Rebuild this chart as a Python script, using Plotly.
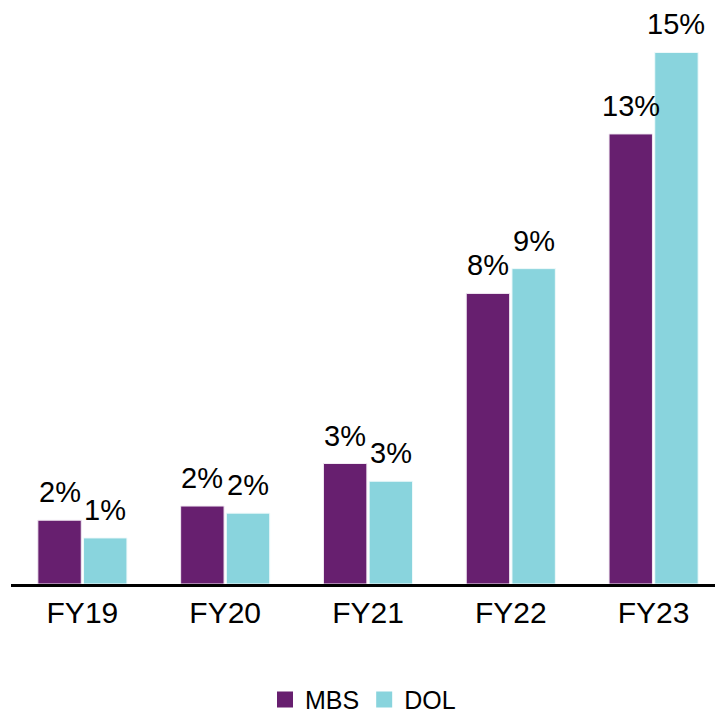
import plotly.graph_objects as go

# Fiscal years and share values (percent)
years = ["FY19", "FY20", "FY21", "FY22", "FY23"]
mbs_values = [1.8, 2.2, 3.4, 8.2, 12.7]
dol_values = [1.3, 2.0, 2.9, 8.9, 15.0]

MBS_COLOR = "#671F6F"
DOL_COLOR = "#89D4DD"
FONT = "Liberation Sans, Arial, sans-serif"

BARGAP = 0.36
SLOT_PX = 143  # pixels per category on the x axis
OFFSET_PX = (1 - BARGAP) / 4 * SLOT_PX

fig = go.Figure()
series = [("MBS", mbs_values, MBS_COLOR, "#f2eaf3", -OFFSET_PX),
          ("DOL", dol_values, DOL_COLOR, "#f0fafb", OFFSET_PX)]

for name, vals, color, edge, shift in series:
    fig.add_trace(go.Bar(
        x=years, y=vals, name=name, showlegend=False,
        marker=dict(color=color, line=dict(color=edge, width=1)),
    ))
    # value labels above each bar
    for yr, v in zip(years, vals):
        fig.add_annotation(
            x=yr, y=v, text=f"{v:.0f}%", showarrow=False,
            xshift=shift, yshift=10, yanchor="bottom", xanchor="center",
            font=dict(size=29, family=FONT, color="#000000"),
        )
    # legend entry with a larger square swatch
    fig.add_trace(go.Scatter(
        x=[None], y=[None], mode="markers", name=name,
        marker=dict(symbol="square", size=20, color=color),
    ))

fig.update_layout(
    width=715, height=717,
    margin=dict(l=11, r=0, t=17, b=133, autoexpand=False),
    paper_bgcolor="white", plot_bgcolor="white",
    barmode="group", bargap=BARGAP, bargroupgap=0.05,
    font=dict(family=FONT, color="#000000"),
    showlegend=True,
    legend=dict(
        orientation="h", x=0.5, xanchor="center",
        yref="container", y=0.024, yanchor="middle",
        font=dict(size=25, family=FONT, color="#000000"),
        traceorder="normal", itemwidth=30,
    ),
)
fig.update_xaxes(
    range=[-0.5, 4.43], showgrid=False, showline=True, linecolor="#000000",
    linewidth=3, ticks="", tickfont=dict(size=30, family=FONT, color="#000000"),
    zeroline=False, automargin=False,
)
fig.update_yaxes(
    range=[0, 16], visible=False, showgrid=False, zeroline=False,
)

fig.write_html("out.html")
